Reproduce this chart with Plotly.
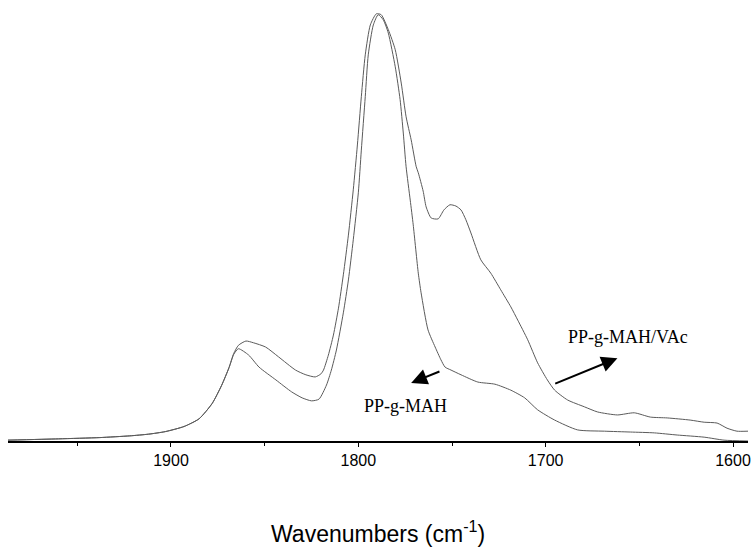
import plotly.graph_objects as go

# PP-g-MAH (lower curve in the 1750-1600 region)
wn_mah = [1987, 1960, 1938, 1922, 1912, 1903, 1893, 1885, 1878, 1873, 1869, 1866.5,
          1864, 1858.5, 1853, 1844, 1835.6, 1830, 1825, 1821, 1817, 1814.4, 1811.7,
          1808, 1805.3, 1802.7, 1800, 1798.4, 1796.3, 1794.7, 1792, 1789.4, 1786.7,
          1784, 1780.3, 1777.7, 1776, 1774.5, 1772.3, 1770.7, 1768, 1766.5, 1762.8,
          1759, 1755.9, 1753.7, 1750.5, 1745.2, 1736.2, 1727.1, 1718.6, 1711.2,
          1704.3, 1695.2, 1683, 1668.6, 1654.8, 1642, 1629.8, 1615.4, 1604.8, 1592]
ab_mah = [0.002, 0.005, 0.008, 0.012, 0.016, 0.022, 0.034, 0.052, 0.088, 0.130, 0.172, 0.203,
          0.216, 0.201, 0.173, 0.143, 0.115, 0.101, 0.094, 0.098, 0.131, 0.166, 0.213,
          0.300, 0.377, 0.471, 0.581, 0.681, 0.806, 0.904, 0.974, 0.998, 0.986,
          0.955, 0.876, 0.799, 0.721, 0.642, 0.564, 0.506, 0.393, 0.347, 0.260,
          0.220, 0.190, 0.173, 0.166, 0.155, 0.138, 0.133, 0.119, 0.101,
          0.073, 0.049, 0.026, 0.023, 0.021, 0.019, 0.014, 0.009, 0.002, 0.0]

# PP-g-MAH/VAc (upper curve in the 1750-1600 region)
wn_vac = [1987, 1960, 1938, 1922, 1912, 1903, 1893, 1885, 1878, 1873, 1869, 1866.5,
          1864, 1860, 1856, 1849.5, 1842.6, 1833.5, 1828, 1823, 1820, 1818.6, 1816,
          1813.3, 1810.6, 1808, 1805.3, 1802.7, 1800.5, 1798.4, 1796.3, 1793.6,
          1790.4, 1787.8, 1784, 1780.3, 1777.1, 1774.5, 1771.8, 1769.1, 1768,
          1765.4, 1763.8, 1761.1, 1757.4, 1754.3, 1751.1, 1747.9, 1745.2, 1742.6,
          1739.9, 1734.6, 1729.3, 1724, 1718.6, 1714.9, 1709.6, 1704.3, 1699.1,
          1695.2, 1688.3, 1679.3, 1672.3, 1661.7, 1652.7, 1644.1, 1635.1, 1622.9,
          1615.4, 1608.5, 1603.2, 1597.9, 1592]
ab_vac = [0.002, 0.005, 0.008, 0.012, 0.016, 0.022, 0.034, 0.052, 0.088, 0.130, 0.172, 0.205,
          0.224, 0.234, 0.230, 0.220, 0.197, 0.166, 0.155, 0.150, 0.157, 0.166, 0.201,
          0.248, 0.311, 0.389, 0.482, 0.588, 0.693, 0.806, 0.904, 0.974,
          1.0, 0.998, 0.963, 0.916, 0.838, 0.759, 0.705, 0.642, 0.628,
          0.585, 0.548, 0.522, 0.520, 0.541, 0.553, 0.550, 0.541, 0.518,
          0.487, 0.424, 0.393, 0.354, 0.314, 0.283, 0.237, 0.183, 0.143,
          0.119, 0.096, 0.080, 0.068, 0.061, 0.066, 0.056, 0.054, 0.049,
          0.044, 0.042, 0.030, 0.023, 0.023]

x_range = [1987, 1592]
tick_vals = [1900, 1800, 1700, 1600]
tick_text = ["1900", "1800", "1700", "1600"]
minor_vals = [1950, 1850, 1750, 1650]

fig = go.Figure()
fig.add_trace(go.Scatter(x=wn_mah, y=ab_mah, mode="lines", name="PP-g-MAH",
                         line=dict(color="#5a5a5a", width=1, shape="spline", smoothing=0.6)))
fig.add_trace(go.Scatter(x=wn_vac, y=ab_vac, mode="lines", name="PP-g-MAH/VAc",
                         line=dict(color="#5a5a5a", width=1, shape="spline", smoothing=0.6)))

fig.add_annotation(x=1771.8, y=0.136, ax=1755.9, ay=0.164, axref="x", ayref="y",
                   xref="x", yref="y", text="", showarrow=True,
                   arrowhead=2, arrowsize=1.6, arrowwidth=2, arrowcolor="black")
fig.add_annotation(x=1661.7, y=0.194, ax=1695.7, ay=0.133, axref="x", ayref="y",
                   xref="x", yref="y", text="", showarrow=True,
                   arrowhead=2, arrowsize=1.6, arrowwidth=2, arrowcolor="black")
fig.add_annotation(x=1775, y=0.082, xref="x", yref="y", text="PP-g-MAH", showarrow=False,
                   font=dict(family="Liberation Serif", size=18, color="black"))
fig.add_annotation(x=1656, y=0.243, xref="x", yref="y", text="PP-g-MAH/VAc", showarrow=False,
                   font=dict(family="Liberation Serif", size=18, color="black"))
# axis title placed as paper annotation
fig.add_annotation(x=0.5, y=-0.212, xref="paper", yref="paper", yanchor="middle",
                   text="Wavenumbers (cm<sup>-1</sup>)", showarrow=False,
                   font=dict(family="Liberation Sans", size=23, color="black"))

fig.update_layout(
    width=752, height=549,
    margin=dict(l=8, r=4, t=10, b=108, autoexpand=False),
    plot_bgcolor="white", paper_bgcolor="white",
    showlegend=False,
    xaxis=dict(range=x_range, tickvals=tick_vals, ticktext=tick_text,
               automargin=False,
               showline=True, linecolor="black", linewidth=2,
               ticks="outside", ticklen=4, tickcolor="black", tickwidth=1,
               minor=dict(tickvals=minor_vals, ticks="outside", ticklen=3,
                          tickcolor="black"),
               showgrid=False, zeroline=False,
               tickfont=dict(family="Liberation Sans", size=16, color="black")),
    yaxis=dict(range=[0, 1.009], visible=False, showgrid=False, zeroline=False,
               automargin=False),
)

fig.write_html("out.html", config={"displayModeBar": False},
               post_script="document.body.style.margin='0';document.body.style.overflow='hidden';")
